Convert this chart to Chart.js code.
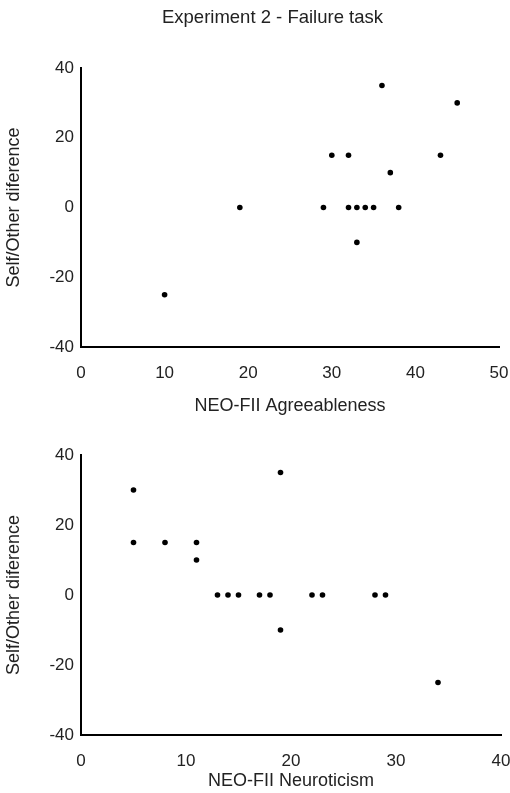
<!DOCTYPE html>
<html>
<head>
<meta charset="utf-8">
<script src="https://cdn.jsdelivr.net/npm/chart.js@4/dist/chart.umd.min.js"></script>
<style>
    body { margin: 0; background: #fff; overflow: hidden; }
    canvas { display: block; position: absolute; left: 0; }
    #agreeChart { top: 0; }
    #neuroChart { top: 420px; }
    #mainTitle {
        position: absolute; top: 6px; left: 35px; width: 475px;
        text-align: center; line-height: 22px;
        font: 18.5px 'Liberation Sans', Arial, sans-serif; color: #222;
    }
</style>
</head>
<body>
<canvas id="agreeChart" width="510" height="420"></canvas>
<canvas id="neuroChart" width="510" height="373"></canvas>
<div id="mainTitle">Experiment 2 - Failure task</div>
<script>
// Experiment 2 - Failure task data
var agreeX = [10, 19, 29, 30, 32, 32, 33, 33, 34, 35, 36, 37, 38, 43, 45];
var agreeY = [-25, 0, 0, 15, 15, 0, 0, -10, 0, 0, 35, 10, 0, 15, 30];

var neuroX = [5, 5, 8, 11, 11, 13, 14, 15, 17, 18, 19, 19, 22, 23, 28, 29, 34];
var neuroY = [30, 15, 15, 15, 10, 0, 0, 0, 0, 0, 35, -10, 0, 0, 0, 0, -25];

var yTicks = [-40, -20, 0, 20, 40];
var agreeTicks = [0, 10, 20, 30, 40, 50];
var neuroTicks = [0, 10, 20, 30, 40];

var textColor = '#222';
var fontFamily = "'Liberation Sans', Arial, sans-serif";

function toPoints(xs, ys) {
    return xs.map(function (x, i) { return { x: x, y: ys[i] }; });
}

function makeScales(xTicks, xTitle, xHeight, xTitlePad) {
    return {
        x: {
            type: 'linear',
            min: xTicks[0],
            max: xTicks[xTicks.length - 1],
            afterBuildTicks: function (scale) {
                scale.ticks = xTicks.map(function (v) { return { value: v }; });
            },
            afterFit: function (scale) {
                scale.height = xHeight;
                scale.paddingLeft = 0;
                scale.paddingRight = 0;
            },
            grid: { display: false, drawTicks: false },
            border: { display: true, color: '#000', width: 2 },
            ticks: { color: textColor, padding: 16, maxRotation: 0, font: { family: fontFamily, size: 17 } },
            title: { display: true, text: xTitle, color: textColor, padding: xTitlePad, font: { family: fontFamily, size: 18 } }
        },
        y: {
            type: 'linear',
            min: yTicks[0],
            max: yTicks[yTicks.length - 1],
            afterBuildTicks: function (scale) {
                scale.ticks = yTicks.map(function (v) { return { value: v }; });
            },
            afterFit: function (scale) {
                scale.width = 81;
                scale.paddingTop = 0;
                scale.paddingBottom = 0;
            },
            grid: { display: false, drawTicks: false },
            border: { display: true, color: '#000', width: 2 },
            ticks: { color: textColor, padding: 7, font: { family: fontFamily, size: 17 } },
            title: { display: true, text: 'Self/Other diference', color: textColor, padding: 3, font: { family: fontFamily, size: 18 } }
        }
    };
}

// Top: agreeableness
var ctx1 = document.getElementById('agreeChart').getContext('2d');
var agreeChart = new Chart(ctx1, {
    type: 'scatter',
    data: {
        datasets: [{
            data: toPoints(agreeX, agreeY),
            backgroundColor: '#000',
            borderWidth: 0,
            pointRadius: 2.8
        }]
    },
    options: {
        responsive: false,
        animation: false,
        layout: { padding: { top: 68, right: 11, bottom: 0, left: 0 } },
        plugins: {
            legend: { display: false },
            tooltip: { enabled: false }
        },
        scales: makeScales(agreeTicks, 'NEO-FII Agreeableness', 73, { top: 0, bottom: 3 })
    }
});

// Bottom: neuroticism
var ctx2 = document.getElementById('neuroChart').getContext('2d');
var neuroChart = new Chart(ctx2, {
    type: 'scatter',
    data: {
        datasets: [{
            data: toPoints(neuroX, neuroY),
            backgroundColor: '#000',
            borderWidth: 0,
            pointRadius: 2.8
        }]
    },
    options: {
        responsive: false,
        animation: false,
        layout: { padding: { top: 35, right: 9, bottom: 0, left: 0 } },
        plugins: {
            legend: { display: false },
            tooltip: { enabled: false }
        },
        scales: makeScales(neuroTicks, 'NEO-FII Neuroticism', 58, { top: 0, bottom: 1 })
    }
});
</script>
</body>
</html>
